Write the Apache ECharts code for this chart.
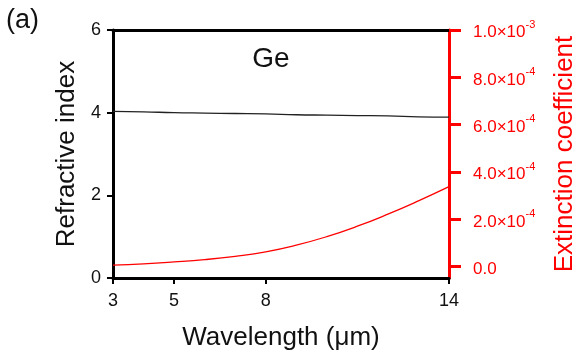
<!DOCTYPE html>
<html>
<head>
<meta charset="utf-8">
<script src="https://cdn.jsdelivr.net/npm/echarts@6/dist/echarts.min.js"></script>
<style>
html,body{margin:0;padding:0;background:#fff;}
#c{width:579px;height:364px;}
</style>
</head>
<body>
<div id="c"></div>
<script>
// Wavelength (μm)
var wavelength = [3, 4, 5, 6, 7, 8, 9, 10, 11, 12, 13, 14];
// Refractive index n
var refractiveIndex = [4.03, 4.02, 4.00, 3.99, 3.98, 3.97, 3.95, 3.94, 3.93, 3.92, 3.90, 3.89];
// Extinction coefficient k
var extinction = [0.000007, 0.000012, 0.000020, 0.000030, 0.000044, 0.000063, 0.000091, 0.000127, 0.000171, 0.000222, 0.000278, 0.000338];
// Tick labels
var xTicks = [3, 5, 8, 14];
var leftTicks = [0, 2, 4, 6];
var rightTicks = [0, 0.0002, 0.0004, 0.0006, 0.0008, 0.001];

var FONT = "'Liberation Sans', Arial, sans-serif";
var RED = '#ff0000';

var chart = echarts.init(document.getElementById('c'), null, {renderer: 'canvas'});

function pairs(xs, ys) { return xs.map(function (x, i) { return [x, ys[i]]; }); }

function rightFmt(v) {
  if (Math.abs(v) < 1e-12) return '{m|0.0}';
  var e = Math.floor(Math.log10(v) + 1e-9);
  var m = v / Math.pow(10, e);
  return '{m|' + m.toFixed(1) + '×10}{s|' + e + '}';
}

chart.setOption({
  animation: false,
  backgroundColor: '#fff',
  textStyle: {fontFamily: FONT},
  grid: {left: 113, right: 130, top: 30, bottom: 86, containLabel: false, outerBoundsMode: 'none'},
  graphic: [
    {type: 'text', left: 6, top: 7, style: {text: '(a)', fontSize: 27, fontFamily: FONT, fill: '#111'}},
    {type: 'text', x: 271, y: 59, style: {text: 'Ge', fontSize: 28, fontFamily: FONT, fill: '#111', align: 'center', verticalAlign: 'middle'}}
  ],
  xAxis: [{
    type: 'value', min: 3, max: 14, position: 'bottom',
    name: 'Wavelength (μm)', nameLocation: 'middle', nameGap: 47,
    nameTextStyle: {fontSize: 26, color: '#111', fontFamily: FONT},
    axisLine: {show: true, lineStyle: {color: '#000', width: 3}},
    axisTick: {show: true, length: 6, lineStyle: {color: '#000', width: 2}, customValues: xTicks},
    axisLabel: {fontSize: 18, color: '#111', margin: 14, customValues: xTicks, fontFamily: FONT},
    splitLine: {show: false}
  }, {
    type: 'value', min: 3, max: 14, position: 'top',
    axisLine: {show: true, onZero: false, lineStyle: {color: '#000', width: 3}},
    axisTick: {show: false}, axisLabel: {show: false}, splitLine: {show: false}
  }],
  yAxis: [{
    type: 'value', min: 0, max: 6, position: 'left',
    name: 'Refractive index', nameLocation: 'middle', nameGap: 25, nameRotate: 90,
    nameTextStyle: {fontSize: 26, color: '#111', fontFamily: FONT},
    axisLine: {show: true, lineStyle: {color: '#000', width: 3}},
    axisTick: {show: true, length: 6, lineStyle: {color: '#000', width: 2}, customValues: leftTicks},
    axisLabel: {fontSize: 18, color: '#111', margin: 12, customValues: leftTicks, fontFamily: FONT},
    splitLine: {show: false}
  }, {
    type: 'value', min: -0.0000477, max: 0.001, position: 'right',
    name: 'Extinction coefficient', nameLocation: 'middle', nameGap: 103, nameRotate: 90,
    nameTextStyle: {fontSize: 26, color: RED, fontFamily: FONT},
    axisLine: {show: true, onZero: false, lineStyle: {color: RED, width: 3}},
    axisTick: {show: true, length: 12, lineStyle: {color: RED, width: 3}, customValues: rightTicks},
    axisLabel: {
      fontSize: 17, color: RED, margin: 24, customValues: rightTicks, fontFamily: FONT,
      formatter: rightFmt,
      rich: {
        m: {fontSize: 17, color: RED, fontFamily: FONT, lineHeight: 22, verticalAlign: 'bottom'},
        s: {fontSize: 11, color: RED, fontFamily: FONT, lineHeight: 22, verticalAlign: 'top'}
      }
    },
    splitLine: {show: false}
  }],
  series: [{
    type: 'line', xAxisIndex: 0, yAxisIndex: 0, data: pairs(wavelength, refractiveIndex),
    showSymbol: false, smooth: 0.5, lineStyle: {color: '#222', width: 1.3}, z: 3
  }, {
    type: 'line', xAxisIndex: 0, yAxisIndex: 1, data: pairs(wavelength, extinction),
    showSymbol: false, smooth: 0.5, lineStyle: {color: RED, width: 1.3}, z: 3
  }]
});
</script>
</body>
</html>
